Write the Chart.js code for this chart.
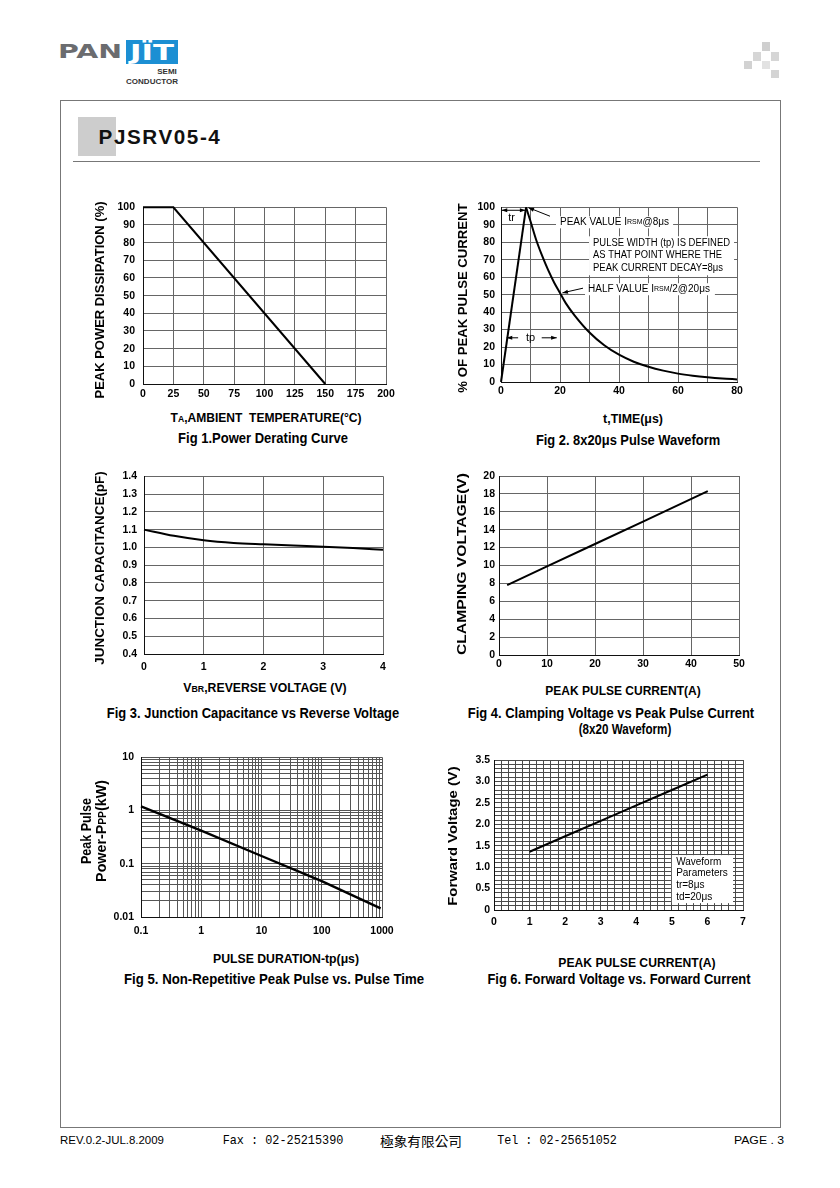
<!DOCTYPE html>
<html>
<head>
<meta charset="utf-8">
<script src="https://cdn.jsdelivr.net/npm/chart.js@4.4.0/dist/chart.umd.min.js"></script>
<style>
  body { margin: 0; width: 840px; height: 1188px; background: #fff; position: relative; overflow: hidden; }
  canvas { position: absolute; }
  .txt { position: absolute; white-space: nowrap; line-height: 1; font-family: 'Liberation Sans', Arial, sans-serif; font-weight: bold; color: #000; }
  .sm { font-size: 0.72em; }
  .box { position: absolute; }
</style>
</head>
<body>
<div class="box" style="left:60px;top:100px;width:719px;height:1026px;border:1px solid #777;"></div>
<div class="box" style="left:73px;top:161px;width:687px;height:1px;background:#777;"></div>
<div class="box" style="left:78px;top:117px;width:38px;height:39px;background:#cdcdcd;"></div>
<div class="box" style="left:126px;top:40px;width:52px;height:24px;background:#1c8fd3;"></div>
<div class="box" style="left:762px;top:42px;width:8px;height:9px;background:#cfcfcf;"></div>
<div class="box" style="left:753px;top:52px;width:8px;height:9px;background:#d6d6d6;"></div>
<div class="box" style="left:771px;top:52px;width:8px;height:9px;background:#d6d6d6;"></div>
<div class="box" style="left:744px;top:61px;width:8px;height:8px;background:#d2d2d2;"></div>
<div class="box" style="left:762px;top:61px;width:8px;height:8px;background:#e2e2e2;"></div>
<div class="box" style="left:771px;top:70px;width:8px;height:8px;background:#d4d4d4;"></div>
<script>
// Fig 1 power derating
const f1Temp = [0, 25, 150];
const f1Power = [100, 100, 0];
// Fig 2 8x20us pulse waveform
const f2RiseT = [0, 8.5];
const f2RiseI = [0, 100];
const f2DecayT = [8.5, 10, 12, 14, 16, 18, 20, 22, 25, 30, 35, 40, 45, 50, 55, 60, 65, 70, 75, 80];
const f2DecayI = [100, 92, 81, 72, 64, 57, 51, 45, 38, 28.3, 21, 15.6, 11.6, 8.7, 6.5, 4.8, 3.6, 2.7, 2.0, 1.5];
// Fig 3 junction capacitance
const f3Volt = [0, 0.5, 1, 1.5, 2, 2.5, 3, 3.5, 4];
const f3Cap = [1.10, 1.065, 1.04, 1.025, 1.017, 1.01, 1.004, 0.996, 0.987];
// Fig 4 clamping voltage
const f4Curr = [1.7, 10, 20, 30, 43.5];
const f4Volt = [7.8, 9.9, 12.4, 14.9, 18.3];
// Fig 5 peak pulse power vs pulse time
const f5Time = [0.1, 1, 10, 100, 950];
const f5Power = [1.2, 0.42, 0.14, 0.047, 0.0145];
const f5Decades = [0.1, 1, 10, 100];
const f5PowerDecades = [0.01, 0.1, 1];
// Fig 6 forward voltage
const f6Curr = [1, 2, 3, 4, 5, 6];
const f6Volt = [1.36, 1.72, 2.08, 2.44, 2.80, 3.16];

const FONT = "'Liberation Sans', Arial, sans-serif";
Chart.defaults.font.family = FONT;
Chart.defaults.color = '#000';

function pts(xs, ys) { return xs.map((x, i) => ({ x: x, y: ys[i] })); }

function addText(html, cx, cy, o) {
  o = o || {};
  const el = document.createElement('div');
  el.className = 'txt';
  el.innerHTML = html;
  el.style.fontSize = (o.size || 13) + 'px';
  if (o.weight) el.style.fontWeight = o.weight;
  if (o.font) el.style.fontFamily = o.font;
  if (o.color) el.style.color = o.color;
  if (o.ls) el.style.letterSpacing = o.ls + 'px';
  document.body.appendChild(el);
  const sx = o.width ? o.width / el.offsetWidth : 1;
  el.style.left = cx + 'px';
  el.style.top = cy + 'px';
  el.style.transform = 'translate(-50%,-50%) ' + (o.rot ? 'rotate(-90deg) ' : '') + 'scaleX(' + sx + ')';
}

function line(xs, ys, extra) {
  return Object.assign({ data: pts(xs, ys), borderColor: '#000', borderWidth: 2, pointRadius: 0, clip: false, tension: 0 }, extra || {});
}

function axis(type, min, max, step, grid, pad, cb, extra) {
  return Object.assign({
    type: type, min: min, max: max,
    grid: { color: grid, lineWidth: 1, drawTicks: false },
    border: { color: '#111', width: 1 },
    ticks: { stepSize: step, padding: pad, autoSkip: false, maxRotation: 0, font: { size: 10.5, weight: 'bold' }, callback: cb }
  }, extra || {});
}

// area = plot area in page pixels
function buildChart(area, datasets, xOpt, yOpt, plugins) {
  const box = { x: area.l - 52, y: area.t - 12, r: area.r + 22, b: area.b + 26 };
  const cv = document.createElement('canvas');
  cv.width = box.r - box.x;
  cv.height = box.b - box.y;
  cv.style.left = box.x + 'px';
  cv.style.top = box.y + 'px';
  document.body.appendChild(cv);
  xOpt.position = 'bottom';
  yOpt.position = 'left';
  xOpt.afterFit = s => { s.height = box.b - area.b; };
  yOpt.afterFit = s => { s.width = area.l - box.x; };
  return new Chart(cv, {
    type: 'line',
    data: { datasets: datasets },
    options: {
      responsive: false, animation: false, events: [],
      layout: { padding: { top: area.t - box.y, right: box.r - area.r, left: 0, bottom: 0 } },
      plugins: { legend: { display: false }, tooltip: { enabled: false } },
      scales: { x: xOpt, y: yOpt }
    },
    plugins: plugins || []
  });
}

function arrowHead(ctx, x, y, ang, size) {
  ctx.beginPath();
  ctx.moveTo(x, y);
  ctx.lineTo(x - size * Math.cos(ang - 0.35), y - size * Math.sin(ang - 0.35));
  ctx.lineTo(x - size * Math.cos(ang + 0.35), y - size * Math.sin(ang + 0.35));
  ctx.closePath();
  ctx.fill();
}
function arrow(ctx, x1, y1, x2, y2, startHead, endHead) {
  ctx.beginPath(); ctx.moveTo(x1, y1); ctx.lineTo(x2, y2); ctx.stroke();
  const a = Math.atan2(y2 - y1, x2 - x1);
  if (endHead) arrowHead(ctx, x2, y2, a, 6);
  if (startHead) arrowHead(ctx, x1, y1, a + Math.PI, 6);
}
function richWidth(ctx, segs) {
  let w = 0;
  segs.forEach(s => { ctx.font = s[1] + 'px ' + FONT; w += ctx.measureText(s[0]).width; });
  return w;
}
function richText(ctx, segs, x, y) {
  let cx = x;
  segs.forEach(s => { ctx.font = s[1] + 'px ' + FONT; ctx.fillText(s[0], cx, y); cx += ctx.measureText(s[0]).width; });
}

// Fig 2 notes
const fig2Notes = {
  id: 'fig2Notes',
  afterDatasetsDraw(chart) {
    const { ctx, scales: { x, y } } = chart;
    const px = v => x.getPixelForValue(v), py = v => y.getPixelForValue(v);
    ctx.save();
    ctx.textBaseline = 'middle';
    ctx.fillStyle = '#000'; ctx.strokeStyle = '#000'; ctx.lineWidth = 1;

    const peak = [['PEAK VALUE I', 10], ['RSM', 7], ['@8\u03bcs', 10]];
    const half = [['HALF VALUE I', 10], ['RSM', 7], ['/2@20\u03bcs', 10]];
    const para = ['PULSE WIDTH (tp) IS DEFINED', 'AS THAT POINT WHERE THE', 'PEAK CURRENT DECAY=8\u03bcs'];
    const paraW = [137, 129, 130];

    ctx.fillStyle = '#fff';
    let w = richWidth(ctx, peak);
    ctx.fillRect(px(20) - 4, py(91.4) - 6, w + 8, 12);
    w = richWidth(ctx, half);
    ctx.fillRect(px(29.5) - 3, py(53.1) - 6, w + 8, 12);
    ctx.fillRect(px(31.2) - 4, py(79.4) - 7, 145, py(65.1) - py(79.4) + 14);

    ctx.fillStyle = '#000';
    richText(ctx, peak, px(20), py(91.4));
    richText(ctx, half, px(29.5), py(53.1));
    ctx.font = '10px ' + FONT;
    ctx.fillText(para[0], px(31.2), py(79.4), paraW[0]);
    ctx.fillText(para[1], px(31.2), py(72.6), paraW[1]);
    ctx.fillText(para[2], px(31.2), py(65.1), paraW[2]);

    // tr
    arrow(ctx, px(0.2), py(98.3), px(8.3), py(98.3), true, true);
    ctx.font = '11px ' + FONT;
    ctx.textAlign = 'center';
    ctx.fillText('tr', px(3.6), py(93.7));
    // tp
    ctx.fillText('tp', px(10), py(25.3));
    arrow(ctx, px(5.8), py(25.3), px(1.9), py(25.3), false, true);
    arrow(ctx, px(13.8), py(25.3), px(18.9), py(25.3), false, true);
    // leaders
    arrow(ctx, px(16.6), py(94.9), px(9.3), py(99.8), false, true);
    arrow(ctx, px(27.8), py(53.7), px(20.8), py(51), false, true);
    ctx.restore();
  }
};

// Fig 6 waveform box
const fig6Notes = {
  id: 'fig6Notes',
  afterDatasetsDraw(chart) {
    const { ctx, scales: { x, y } } = chart;
    const px = v => x.getPixelForValue(v), py = v => y.getPixelForValue(v);
    ctx.save();
    ctx.fillStyle = '#fff';
    ctx.fillRect(px(5.0), py(1.28), px(6.72) - px(5.0), py(0.16) - py(1.28));
    ctx.fillStyle = '#000';
    ctx.textBaseline = 'middle';
    richText(ctx, [['Waveform', 10]], px(5.12), py(1.113));
    richText(ctx, [['Parameters', 10]], px(5.12), py(0.857));
    richText(ctx, [['tr=8\u03bcs', 10]], px(5.12), py(0.567));
    richText(ctx, [['td=20\u03bcs', 10]], px(5.12), py(0.296));
    ctx.restore();
  }
};

const G = '#666';
const isPow10 = v => Math.abs(Math.log10(v) - Math.round(Math.log10(v))) < 1e-6;
const logLabel = v => isPow10(v) ? (v >= 1 ? String(Math.round(v)) : String(+v.toPrecision(1))) : '';
const logTicks = (decades, last) => {
  const t = [];
  decades.forEach(d => { for (let k = 1; k <= 9; k++) t.push({ value: d * k }); });
  t.push({ value: last });
  return t;
};

// Fig 1
buildChart({ l: 143, t: 205, r: 386, b: 384 },
  [line(f1Temp, f1Power)],
  axis('linear', 0, 200, 25, G, 4),
  axis('linear', 0, 100, 10, G, 8));

// Fig 2
buildChart({ l: 501, t: 207, r: 737, b: 382 },
  [line(f2RiseT, f2RiseI), line(f2DecayT, f2DecayI, { cubicInterpolationMode: 'monotone' })],
  axis('linear', 0, 80, 10, G, 3, v => (v % 20 === 0 ? v : '')),
  axis('linear', 0, 100, 10, G, 6),
  [fig2Notes]);

// Fig 3
buildChart({ l: 144, t: 475, r: 383, b: 654 },
  [line(f3Volt, f3Cap, { cubicInterpolationMode: 'monotone' })],
  axis('linear', 0, 4, 1, G, 7),
  axis('linear', 0.4, 1.4, 0.1, G, 7, v => v.toFixed(1)));

// Fig 4
buildChart({ l: 499, t: 476, r: 739, b: 655 },
  [line(f4Curr, f4Volt)],
  axis('linear', 0, 50, 10, G, 3),
  axis('linear', 0, 20, 2, G, 4));

// Fig 5
buildChart({ l: 141, t: 756, r: 382, b: 917 },
  [line(f5Time, f5Power, { borderWidth: 2.4 })],
  axis('logarithmic', 0.1, 1000, undefined, '#555', 8, logLabel, { afterBuildTicks: s => { s.ticks = logTicks(f5Decades, 1000); } }),
  axis('logarithmic', 0.01, 10, undefined, '#555', 7, logLabel, { afterBuildTicks: s => { s.ticks = logTicks(f5PowerDecades, 10); } }));

// Fig 6
buildChart({ l: 494, t: 760, r: 743, b: 910 },
  [line(f6Curr, f6Volt)],
  axis('linear', 0, 7, 0.2, '#4a4a4a', 6, v => (Math.abs(v - Math.round(v)) < 1e-6 ? String(Math.round(v)) : '')),
  axis('linear', 0, 3.5, 0.1, '#4a4a4a', 4, v => {
    const k = Math.round(v * 10);
    if (k % 5 !== 0) return '';
    return k === 0 ? '0' : v.toFixed(1);
  }),
  [fig6Notes]);

// ---- page text ----
addText('PAN', 90, 51, { size: 20, width: 64, color: '#6b6c6f', font: "'DejaVu Sans', sans-serif" });
addText('J\u00cfT', 152, 53, { size: 21, width: 44, color: '#fff', font: "'DejaVu Sans', sans-serif" });
addText('SEMI', 167, 72, { size: 8, width: 20, color: '#333' });
addText('CONDUCTOR', 152, 82, { size: 8, width: 52, color: '#333' });
addText('PJSRV05-4', 160, 137, { size: 20, width: 123, ls: 1.5, color: '#111' });

// Fig 1 texts
addText('PEAK POWER DISSIPATION (%)', 100, 300, { size: 13.5, width: 197, rot: true });
addText('T<span class="sm">A</span>,AMBIENT&nbsp; TEMPERATURE(\u00b0C)', 266, 418, { size: 13, width: 191 });
addText('Fig 1.Power Derating Curve', 263, 438, { size: 14, width: 170 });
// Fig 2 texts
addText('% OF PEAK PULSE CURRENT', 462.5, 297.5, { size: 13.5, width: 189, rot: true });
addText('t,TIME(\u03bcs)', 633, 418, { size: 13, width: 60 });
addText('Fig 2. 8x20\u03bcs Pulse Waveform', 628, 440, { size: 14, width: 184 });
// Fig 3 texts
addText('JUNCTION CAPACITANCE(pF)', 99.5, 568, { size: 13.5, width: 193, rot: true });
addText('V<span class="sm">BR</span>,REVERSE VOLTAGE (V)', 265, 688, { size: 13, width: 163 });
addText('Fig 3. Junction Capacitance vs Reverse Voltage', 252.5, 713, { size: 14, width: 292 });
// Fig 4 texts
addText('CLAMPING VOLTAGE(V)', 461.5, 564, { size: 13.5, width: 182, rot: true });
addText('PEAK PULSE CURRENT(A)', 622.5, 690, { size: 13, width: 155 });
addText('Fig 4. Clamping Voltage vs Peak Pulse Current', 610.5, 713, { size: 14, width: 286 });
addText('(8x20 Waveform)', 625, 729, { size: 14, width: 93 });
// Fig 5 texts
addText('Peak Pulse', 85.5, 831, { size: 14, width: 66, rot: true });
addText('Power-P<span class="sm">PP</span>(kW)', 100.5, 831, { size: 14, width: 102, rot: true });
addText('PULSE DURATION-tp(\u03bcs)', 285.5, 958, { size: 13, width: 146 });
addText('Fig 5. Non-Repetitive Peak Pulse vs. Pulse Time', 274, 979, { size: 14, width: 300 });
// Fig 6 texts
addText('Forward Voltage (V)', 453, 836, { size: 13.5, width: 140, rot: true });
addText('PEAK PULSE CURRENT(A)', 636.5, 961.5, { size: 13, width: 157 });
addText('Fig 6. Forward Voltage vs. Forward Current', 618.5, 979, { size: 14, width: 263 });

// footer
addText('REV.0.2-JUL.8.2009', 112, 1140, { size: 11, width: 104, weight: 'normal' });
addText('Fax : 02-25215390', 282.5, 1140, { size: 13, width: 121, weight: 'normal', font: "'Liberation Mono', monospace" });
addText('\u6975\u8c61\u6709\u9650\u516c\u53f8', 421, 1140, { size: 13, width: 82, weight: 'normal', font: "'Noto Sans CJK TC', sans-serif" });
addText('Tel : 02-25651052', 557, 1140, { size: 13, width: 120, weight: 'normal', font: "'Liberation Mono', monospace" });
addText('PAGE . 3', 758.5, 1140, { size: 11, width: 50, weight: 'normal' });
</script>
</body>
</html>
